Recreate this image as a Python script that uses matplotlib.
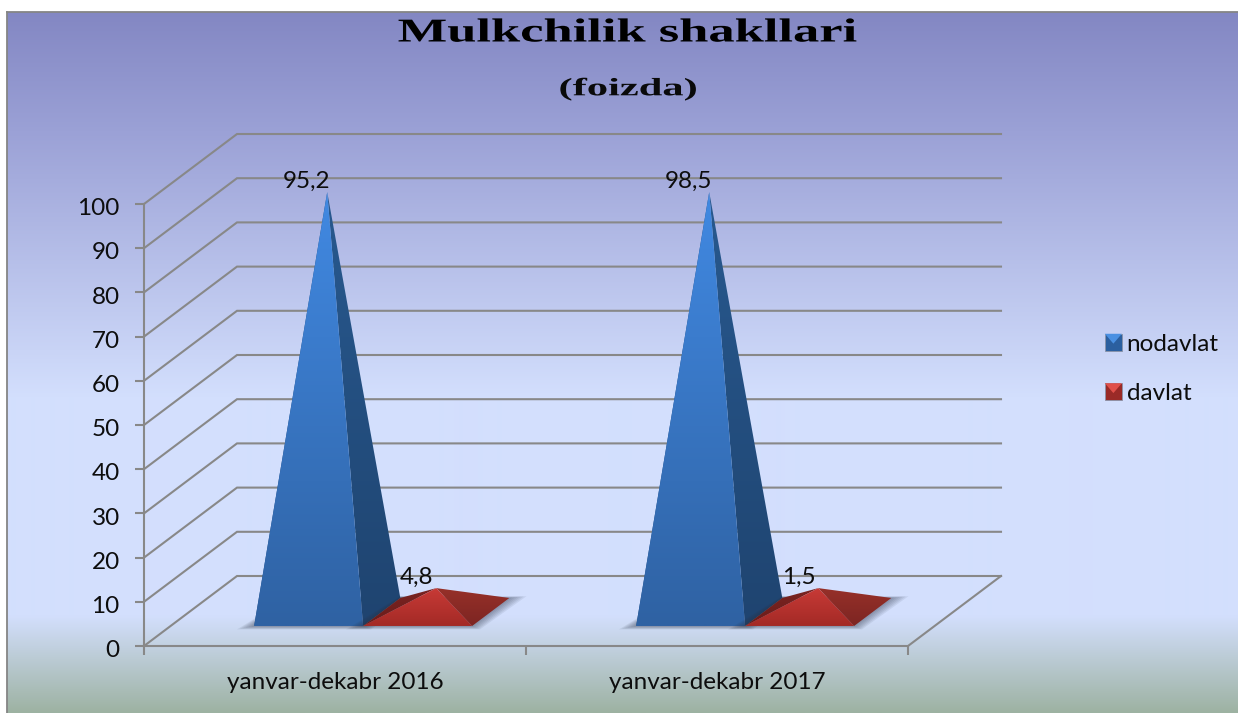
import numpy as np
import matplotlib
matplotlib.use("Agg")
import matplotlib.pyplot as plt
from matplotlib.colors import to_rgb
from matplotlib.patches import Polygon, Rectangle
from matplotlib.legend_handler import HandlerBase
from matplotlib.patheffects import AbstractPathEffect
from matplotlib.transforms import Affine2D, ScaledTranslation

# ---- data ----
categories = ["yanvar-dekabr 2016", "yanvar-dekabr 2017"]
series_names = ["nodavlat", "davlat"]
nodavlat_labels = ["95,2", "98,5"]
davlat_labels = ["4,8", "1,5"]
# heights of the drawn pyramids (both groups look equal)
nodavlat_heights = [95.0, 95.0]
davlat_heights = [5.4, 5.4]
y_ticks = list(range(0, 101, 10))

W, H = 1238, 713
GRID = "#888888"
FS = 17.5
FONT = "Lato"
fig = plt.figure(figsize=(W / 100, H / 100), dpi=100, facecolor="white")

# ---- background panel ----
bg = fig.add_axes([7 / W, 0, 1 - 7 / W, 1 - 12 / H])
pos = np.array([0, .17, .55, .862, 1.0])
cols = np.array([to_rgb(c) for c in ["#8387c3", "#9ba1d6", "#d3dffd", "#d3dffd", "#9db2a2"]])
t = np.linspace(0, 1, 701)
grad = np.stack([np.interp(t, pos, cols[:, k]) for k in range(3)], axis=1)[:, None, :]
bg.imshow(grad, aspect="auto", extent=[0, 1, 0, 1], origin="upper", interpolation="bilinear")
bg.set_xticks([]); bg.set_yticks([])
for s in ["right", "bottom"]:
    bg.spines[s].set_visible(False)
for s in ["left", "top"]:
    bg.spines[s].set_color("#858585"); bg.spines[s].set_linewidth(1.3)

# ---- main axes = front plane of the 3D box ----
L, R, Y0, Y100 = 144, 908, 646, 204
ax = fig.add_axes([L / W, 1 - Y0 / H, (R - L) / W, (Y0 - Y100) / H])
ax.patch.set_visible(False)
ax.set_xlim(0, 2); ax.set_ylim(0, 100)
dx, dy = 93 / 382, 70 / 4.42      # depth of the box in data units

for s in ["top", "right"]:
    ax.spines[s].set_visible(False)
for s in ["left", "bottom"]:
    ax.spines[s].set_color(GRID); ax.spines[s].set_linewidth(1.5)
ax.set_yticks(y_ticks)
ax.set_xticks([0, 1, 2]); ax.set_xticklabels([])
ax.set_xticks([0.5, 1.5], minor=True)
ax.set_xticklabels(categories, minor=True)
ax.tick_params(axis="y", length=6.5, width=1.5, color=GRID, pad=11, labelsize=FS, labelcolor="#0d0d0d", labelfontfamily=FONT)
ax.tick_params(axis="x", which="major", length=6.5, width=1.5, color=GRID)
ax.tick_params(axis="x", which="minor", length=0, pad=19, labelsize=FS, labelcolor="#0d0d0d", labelfontfamily=FONT)
for lab in ax.get_yticklabels():
    lab.set_transform(lab.get_transform() + ScaledTranslation(0, -2 / 72, fig.dpi_scale_trans))

# gridlines on side and back walls
for v in y_ticks:
    ax.plot([0, dx, 2 + dx], [v, v + dy, v + dy], color=GRID, lw=1.5, clip_on=False, zorder=1, solid_joinstyle="miter")
ax.plot([2, 2 + dx], [0, dy], color=GRID, lw=1.5, clip_on=False, zorder=1)


def shade(poly, top, bottom, z):
    poly = np.asarray(poly)
    x0, x1 = poly[:, 0].min(), poly[:, 0].max()
    y0, y1 = poly[:, 1].min(), poly[:, 1].max()
    c0, c1 = np.array(to_rgb(top)), np.array(to_rgb(bottom))
    s = np.linspace(0, 1, 128)[:, None, None]
    arr = c0[None, None, :] * (1 - s) + c1[None, None, :] * s
    im = ax.imshow(arr, extent=[x0, x1, y0, y1], origin="upper", aspect="auto", zorder=z, interpolation="bilinear")
    clip = Polygon(poly, closed=True, transform=ax.transData)
    im.set_clip_path(clip)
    im.set_clip_box(fig.bbox)


FRONT, BACK = 0.286, 0.686
BW = 109 / 382


def pyramid(group, idx, h, z, faces):
    x0 = group + 0.5 + (idx - 1) * BW + FRONT * dx + 0.004
    x1 = x0 + BW
    off_x = (BACK - FRONT) * dx
    yf, yb = FRONT * dy, BACK * dy
    fl, fr = (x0, yf), (x1, yf)
    bl, br = (x0 + off_x, yb), (x1 + off_x, yb)
    cx, cy = (x0 + x1 + off_x) / 2, (yf + yb) / 2
    apex = (cx, cy + h)
    # soft shadow around the base
    for g in range(1, 7):
        e = g * 0.0034
        ey = g * 0.13
        ax.add_patch(Polygon([(x0 - e * 2.2, yf - ey), (x1 + e, yf - ey), (x1 + off_x + e * 2.2, yb + ey * .5), (x0 + off_x, yb + ey * .5)],
                             closed=True, fc="#2c3547", ec="none", alpha=0.085, zorder=z - 0.5, clip_on=False))
    shade([fl, bl, apex], *faces["left"], z)
    shade([fr, br, apex], *faces["right"], z + 0.1)
    shade([fl, fr, apex], *faces["front"], z + 0.2)
    return apex


blue = dict(left=("#234f85", "#234f85"), right=("#28598f", "#1f4470"), front=("#4189e2", "#2f62a3"))
red = dict(left=("#7a2422", "#6a1c1a"), right=("#963029", "#7d2522"), front=("#c83a36", "#a32a26"))

for i in range(len(categories)):
    zb = 3 + i * 3
    a = pyramid(i, 0, nodavlat_heights[i], zb, blue)
    ax.annotate(nodavlat_labels[i], a, xytext=(-15, 7.5), textcoords="offset points", ha="center", va="center",
                fontsize=FS, family=FONT, color="#0d0d0d", zorder=20, annotation_clip=False)
    a = pyramid(i, 1, davlat_heights[i], zb + 1, red)
    ax.annotate(davlat_labels[i], a, xytext=(-14, 8), textcoords="offset points", ha="center", va="center",
                fontsize=FS, family=FONT, color="#0d0d0d", zorder=20, annotation_clip=False)
ax.set_xlim(0, 2); ax.set_ylim(0, 100)


# ---- legend ----
class Key(HandlerBase):
    def __init__(self, base, light):
        super().__init__(); self.base, self.light = base, light

    def create_artists(self, legend, orig, xd, yd, w, h, fs, trans):
        s = min(w, h) * 1.0
        x, y = xd * -1, -yd
        r = Rectangle((x, y), s, s, fc=self.base, ec="#8a93a8", lw=0.6, transform=trans)
        p = Polygon([(x, y + s), (x + s, y + s), (x + s / 2, y + s * .42)], fc=self.light, ec="none", transform=trans)
        return [r, p]


h1 = Rectangle((0, 0), 1, 1); h2 = Rectangle((0, 0), 1, 1)
leg = fig.legend([h1, h2], series_names, loc="center left", bbox_to_anchor=(1100 / W, 1 - 369 / H), frameon=False,
                 prop={"family": FONT, "size": FS}, labelcolor="#0d0d0d", handlelength=0.7, handleheight=0.7,
                 labelspacing=1.17, handletextpad=0.2, borderpad=0.2, borderaxespad=0,
                 handler_map={h1: Key("#2b5f9f", "#4a90e2"), h2: Key("#9a2a27", "#e0504a")})


# ---- titles: real text, widened about its own centre like the stretched reference ----
class Widen(AbstractPathEffect):
    def __init__(self, sx, cx):
        super().__init__(); self.sx, self.cx = sx, cx

    def draw_path(self, renderer, gc, tpath, affine, rgbFace=None):
        a = affine + Affine2D().translate(-self.cx, 0).scale(self.sx, 1).translate(self.cx, 0)
        renderer.draw_path(gc, tpath, a, rgbFace)


fig.text(628 / W, 1 - 33 / H, "Mulkchilik shakllari", ha="center", va="center", family="Liberation Serif",
         weight="bold", fontsize=24, color="black", path_effects=[Widen(1.575, 628)])
fig.text(628 / W, 1 - 89 / H, "(foizda)", ha="center", va="center", family="Liberation Serif", weight="bold",
         fontsize=18, color="#0a0a0a", path_effects=[Widen(1.7, 628)])

fig.savefig("out.png", dpi=100)
